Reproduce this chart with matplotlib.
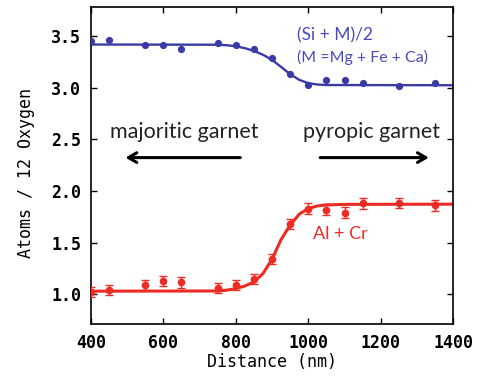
import numpy as np
import matplotlib
matplotlib.use('Agg')
import matplotlib.pyplot as plt

# measured points (distance in nm, atoms per 12 oxygen)
distance = [400, 450, 550, 600, 650, 750, 800, 850, 900, 950, 1000, 1050, 1100, 1150, 1250, 1350]
si_m = [3.45, 3.46, 3.41, 3.41, 3.37, 3.43, 3.41, 3.37, 3.29, 3.13, 3.03, 3.07, 3.07, 3.045, 3.02, 3.04]
al_cr = [1.02, 1.04, 1.09, 1.13, 1.115, 1.06, 1.09, 1.15, 1.34, 1.68, 1.83, 1.82, 1.79, 1.88, 1.885, 1.86]
al_cr_err = [0.05] * len(distance)

# fitted profiles
fit_si_x = [400, 750, 775, 800, 825, 850, 875, 900, 925, 950, 975, 1000, 1025, 1050, 1400]
fit_si_y = [3.417, 3.415, 3.41, 3.40, 3.382, 3.355, 3.318, 3.268, 3.20, 3.13, 3.075, 3.043, 3.03, 3.025, 3.023]
fit_al_x = [400, 750, 775, 800, 825, 850, 875, 900, 925, 950, 975, 1000, 1025, 1050, 1100, 1400]
fit_al_y = [1.03, 1.032, 1.04, 1.055, 1.08, 1.12, 1.20, 1.34, 1.53, 1.67, 1.775, 1.83, 1.855, 1.865, 1.870, 1.872]

blue = '#3b3ba6'
red = '#ec2b24'

fig = plt.figure(figsize=(4.88, 3.79), dpi=100)
ax = fig.add_axes([0.186, 0.145, 0.743, 0.8365])

ax.plot(fit_si_x, fit_si_y, color=blue, lw=1.7, zorder=2)
ax.errorbar(distance, si_m, yerr=0.015, fmt='o', color=blue, ms=4.2, capsize=0, elinewidth=1, zorder=3)

ax.plot(fit_al_x, fit_al_y, color=red, lw=2.2, zorder=2)
ax.errorbar(distance, al_cr, yerr=al_cr_err, fmt='o', color=red, ms=4.5, capsize=3, elinewidth=1, capthick=1, zorder=3)

ax.set_xlim(400, 1400)
ax.set_ylim(0.712, 3.78)
ax.set_xticks([400, 600, 800, 1000, 1200, 1400])
ax.set_yticks([1.0, 1.5, 2.0, 2.5, 3.0, 3.5])
ax.set_yticklabels(['1.0', '1.5', '2.0', '2.5', '3.0', '3.5'])
ax.tick_params(direction='in', top=True, right=True, length=4, width=1)
ax.tick_params(axis='y', pad=7)
ax.tick_params(axis='x', pad=7)
for lab in ax.get_xticklabels() + ax.get_yticklabels():
    lab.set_fontfamily('DejaVu Sans Mono')
    lab.set_fontsize(12)
    lab.set_fontweight('bold')
for s in ax.spines.values():
    s.set_linewidth(1.2)

ax.set_xlabel('Distance (nm)', fontfamily='DejaVu Sans Mono', fontsize=12, labelpad=1)
ax.set_ylabel('Atoms / 12 Oxygen', fontfamily='DejaVu Sans Mono', fontsize=12)
ax.yaxis.set_label_coords(-0.155, 0.476)

ax.text(0.57, 0.91, '(Si + M)/2', transform=ax.transAxes, color='#4a4ac0',
        fontfamily='Lato', fontsize=12.5, va='center')
ax.text(0.57, 0.842, '(M =Mg + Fe + Ca)', transform=ax.transAxes, color='#4a4ac0',
        fontfamily='Lato', fontsize=11.5, va='center')
ax.text(0.054, 0.605, 'majoritic garnet', transform=ax.transAxes, color='#222222',
        fontfamily='Lato', fontsize=15.5, va='center')
ax.text(0.585, 0.605, 'pyropic garnet', transform=ax.transAxes, color='#222222',
        fontfamily='Lato', fontsize=15.5, va='center')
ax.text(0.613, 0.283, 'Al + Cr', transform=ax.transAxes, color=red,
        fontfamily='Lato', fontsize=13, va='center')

ax.annotate('', xy=(0.088, 0.525), xytext=(0.42, 0.525), xycoords='axes fraction',
            arrowprops=dict(arrowstyle='->,head_length=0.6,head_width=0.35', lw=2.2, color='black'))
ax.annotate('', xy=(0.94, 0.525), xytext=(0.625, 0.525), xycoords='axes fraction',
            arrowprops=dict(arrowstyle='->,head_length=0.6,head_width=0.35', lw=2.2, color='black'))

fig.savefig('out.png', dpi=100)
